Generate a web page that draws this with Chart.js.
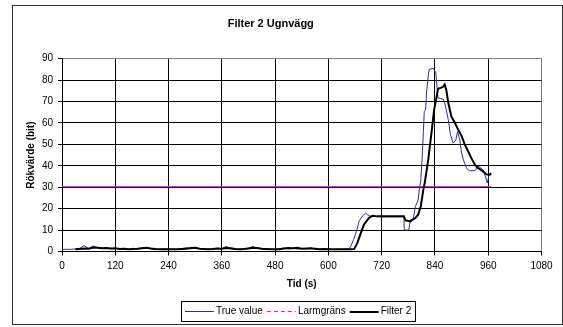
<!DOCTYPE html>
<html>
<head>
<meta charset="utf-8">
<title>Filter 2 Ugnvägg</title>
<script src="https://cdn.jsdelivr.net/npm/chart.js@4"></script>
<style>
    html, body { margin: 0; padding: 0; background: #fff; }
    #wrap { width: 563px; height: 327px; position: relative; }
</style>
</head>
<body>
<div id="wrap"><canvas id="ugnChart"></canvas></div>
<script>
// Rökvärde (time in s)
var trueTimes = [0, 20, 30, 40, 50, 60, 70, 80, 90, 100, 110, 120, 130, 140, 150, 160, 170, 180, 190, 200,
    210, 220, 230, 240, 250, 260, 270, 280, 290, 300, 310, 320, 330, 340, 350, 360, 370, 380, 390, 400,
    410, 420, 430, 440, 450, 460, 470, 480, 490, 500, 510, 520, 530, 540, 550, 560, 570, 580, 590, 600,
    610, 620, 630, 640, 646, 650, 658, 664, 669, 676, 684, 688, 695, 720, 770, 771, 781, 785, 791, 796,
    802, 806, 808, 811, 814, 816, 819, 821, 825, 827, 836, 842, 845, 847, 859, 862, 870, 875, 881, 887,
    891, 896, 900, 904, 911, 917, 930, 937, 949, 955, 958, 962, 965];
var trueValues = [1.0, 1.0, 1.2, 1.5, 2.7, 1.4, 2.6, 1.8, 1.5, 1.6, 1.3, 1.4, 1.1, 1.2, 1.0, 1.5, 1.2, 1.6, 1.8, 1.3,
    1.1, 1.0, 1.2, 1.0, 1.1, 1.0, 1.4, 1.8, 1.2, 1.6, 1.3, 1.0, 1.1, 1.2, 1.5, 1.3, 2.4, 1.2, 1.0, 1.1,
    1.3, 1.6, 2.3, 1.5, 1.2, 1.0, 1.2, 0.9, 1.3, 1.6, 1.2, 1.5, 1.1, 1.4, 1.2, 1.6, 1.0, 1.1, 1.0, 1.1,
    1.0, 1.0, 1.0, 1.2, 1.1, 2.3, 6.2, 10, 14, 16.4, 18, 17.2, 16.4, 16.2, 16.2, 10, 10, 14.8, 15, 21,
    24, 30.6, 33, 43, 56, 65.5, 66, 74, 82, 85, 85.5, 83.4, 75.6, 71.7, 71, 69.4, 61.6, 54.5, 50.6, 52,
    56, 52, 46, 42.8, 39, 37.7, 37.7, 40, 38, 34, 32, 36, 35.5];

var filterTimes = [30, 40, 50, 60, 70, 80, 90, 100, 110, 120, 130, 140, 150, 160, 170, 180, 190, 200,
    210, 220, 230, 240, 250, 260, 270, 280, 290, 300, 310, 320, 330, 340, 350, 360, 370, 380, 390, 400,
    410, 420, 430, 440, 450, 460, 470, 480, 490, 500, 510, 520, 530, 540, 550, 560, 570, 580, 590, 600,
    610, 620, 630, 640, 650, 658, 665, 673, 680, 691, 699, 710, 770, 774, 785, 789, 796, 802, 808, 814,
    817, 825, 832, 838, 844, 847, 853, 859, 862, 866, 870, 877, 885, 892, 900, 907, 915, 922, 930, 937,
    949, 956, 962, 967];
var filterValues = [1.0, 1.2, 1.4, 1.3, 1.9, 1.7, 1.5, 1.6, 1.4, 1.5, 1.2, 1.3, 1.1, 1.2, 1.3, 1.5, 1.7, 1.4,
    1.2, 1.1, 1.0, 1.1, 1.0, 1.1, 1.2, 1.3, 1.6, 1.7, 1.3, 1.2, 1.1, 1.2, 1.4, 1.3, 1.6, 1.5, 1.2, 1.1,
    1.2, 1.4, 1.8, 1.6, 1.3, 1.2, 1.1, 1.0, 1.1, 1.4, 1.6, 1.5, 1.7, 1.3, 1.4, 1.5, 1.3, 1.1, 1.2, 1.1,
    1.0, 1.0, 1.0, 1.1, 1.0, 1.1, 3.9, 8.6, 12.5, 15.6, 16.7, 16.4, 16.4, 14.5, 14, 14.8, 15.6, 17.2, 21, 29,
    32, 43, 55, 66, 72.5, 76, 76.4, 77, 78, 75, 69.4, 63, 60, 57, 54, 50, 46.7, 43.6, 40.5, 39,
    37.3, 36, 35.8, 36.5];

var larmTimes = [0, 967];
var larmValues = [30.3, 30.3];

var xTicks = [0, 120, 240, 360, 480, 600, 720, 840, 960, 1080];
var yTicks = [0, 10, 20, 30, 40, 50, 60, 70, 80, 90];

function toPoints(xs, ys) {
    return xs.map(function(x, i) { return { x: x, y: ys[i] }; });
}

var FONT = "'Liberation Sans', Arial, sans-serif";

// Border round the chart, and the boxed legend under the plot
// (drawn by hand: the built-in legend lost the line colours here)
var framePlugin = {
    id: 'frame',
    afterDraw: function(chart) {
        var c = chart.ctx;
        c.save();
        c.lineWidth = 1;
        c.strokeStyle = '#333';
        c.strokeRect(12.5, 5.5, 550, 319);

        c.font = '10px ' + FONT;
        c.textBaseline = 'middle';
        c.textAlign = 'left';
        var x = 185, y = 311.5, lineLen = 29;
        chart.data.datasets.forEach(function(ds) {
            c.beginPath();
            c.strokeStyle = ds.borderColor;
            c.lineWidth = ds.borderWidth;
            c.setLineDash(ds.legendDash || []);
            var ly = ds.borderWidth % 2 === 0 ? Math.round(y) : y;
            c.moveTo(x, ly);
            c.lineTo(x + lineLen, ly);
            c.stroke();
            c.setLineDash([]);
            x += lineLen + 2;
            c.fillStyle = '#000';
            c.fillText(ds.label, x, y);
            x += c.measureText(ds.label).width + 4;
        });
        c.lineWidth = 1;
        c.strokeStyle = '#000';
        c.strokeRect(181.5, 301.5, Math.round(x - 181), 20);
        c.restore();
    }
};

new Chart(document.getElementById('ugnChart'), {
    type: 'line',
    data: {
        datasets: [
            {
                label: 'True value',
                data: toPoints(trueTimes, trueValues),
                borderColor: '#2e2e9c',
                borderWidth: 1,
                order: 2
            },
            {
                label: 'Larmgräns',
                data: toPoints(larmTimes, larmValues),
                borderColor: '#ff00ff',
                borderWidth: 1,
                legendDash: [4, 3],
                order: 1
            },
            {
                label: 'Filter 2',
                data: toPoints(filterTimes, filterValues),
                borderColor: '#000',
                borderWidth: 2,
                order: 0
            }
        ]
    },
    options: {
        responsive: true,
        maintainAspectRatio: false,
        animation: false,
        layout: {
            padding: { left: 0, right: 21.5, top: 0, bottom: 25.5 }
        },
        elements: {
            point: { radius: 0 },
            line: { tension: 0, fill: false }
        },
        plugins: {
            title: {
                display: true,
                text: 'Filter 2 Ugnvägg',
                color: '#000',
                font: { family: FONT, size: 11, weight: 'bold' },
                padding: { top: 17.4, bottom: 28.1 }
            },
            legend: { display: false },
            tooltip: { enabled: false }
        },
        scales: {
            x: {
                type: 'linear',
                min: 0,
                max: 1080,
                afterFit: function(scale) { scale.height = 50; },
                afterBuildTicks: function(scale) {
                    scale.ticks = xTicks.map(function(v) { return { value: v }; });
                },
                ticks: {
                    color: '#000',
                    font: { family: FONT, size: 10 },
                    padding: 5,
                    maxRotation: 0,
                    autoSkip: false,
                    callback: function(v) { return String(v); }
                },
                grid: {
                    color: function(ctx) { return ctx.tick && ctx.tick.value === 1080 ? '#808080' : '#000'; },
                    tickColor: '#000',
                    tickLength: 4
                },
                border: { color: '#000' },
                title: {
                    display: true,
                    text: 'Tid (s)',
                    color: '#000',
                    font: { family: FONT, size: 10, weight: 'bold' },
                    padding: { top: 0, bottom: 11.5 }
                }
            },
            y: {
                min: 0,
                max: 90,
                afterFit: function(scale) { scale.width = 62; },
                afterBuildTicks: function(scale) {
                    scale.ticks = yTicks.map(function(v) { return { value: v }; });
                },
                ticks: {
                    color: '#000',
                    font: { family: FONT, size: 10 },
                    padding: 5,
                    callback: function(v) { return String(v); }
                },
                grid: {
                    color: function(ctx) { return ctx.tick && ctx.tick.value === 90 ? '#808080' : '#000'; },
                    tickColor: '#000',
                    tickLength: 4
                },
                border: { color: '#000' },
                title: {
                    display: true,
                    text: 'Rökvärde (bit)',
                    color: '#000',
                    font: { family: FONT, size: 10, weight: 'bold' },
                    padding: { top: 25.6, bottom: 0 }
                }
            }
        }
    },
    plugins: [framePlugin]
});
</script>
</body>
</html>
